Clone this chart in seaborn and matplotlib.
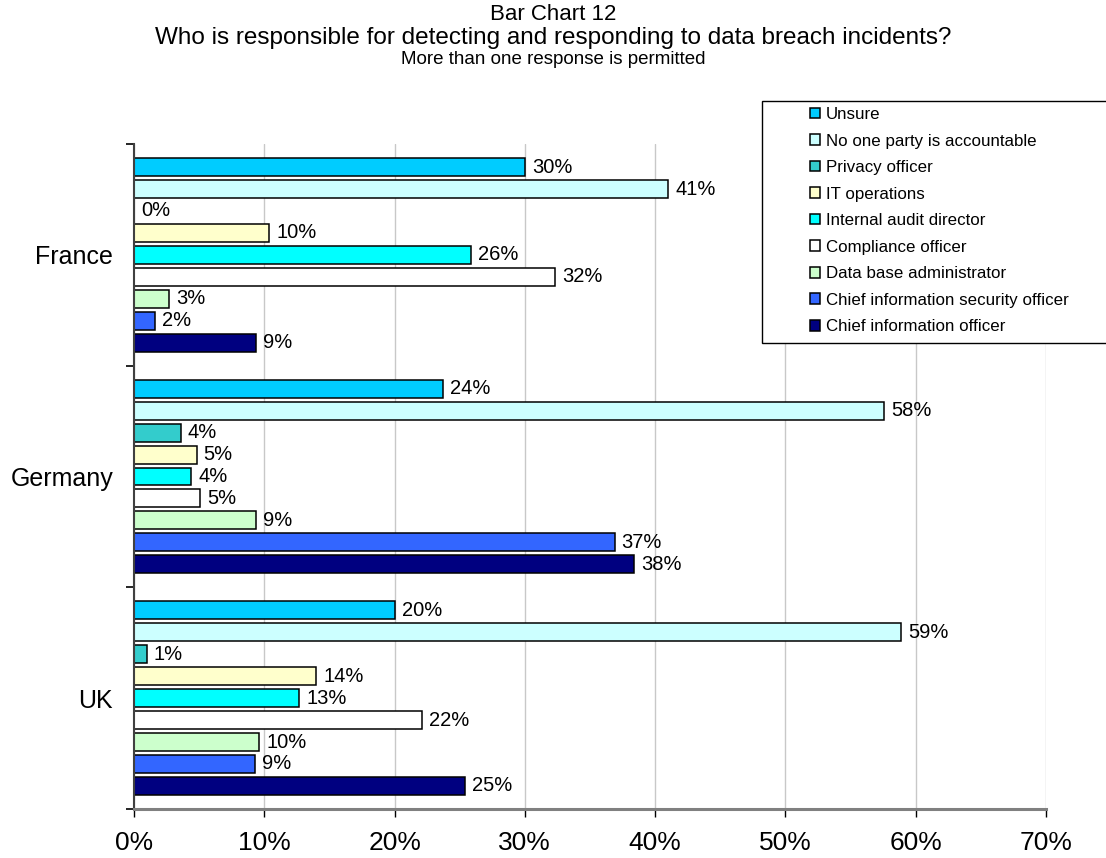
import matplotlib
matplotlib.use("Agg")
import matplotlib.pyplot as plt
from matplotlib.patches import Rectangle
import pandas as pd
import seaborn as sns

# Survey answers, percent of respondents per country
countries = ["France", "Germany", "UK"]
roles = [
    "Unsure",
    "No one party is accountable",
    "Privacy officer",
    "IT operations",
    "Internal audit director",
    "Compliance officer",
    "Data base administrator",
    "Chief information security officer",
    "Chief information officer",
]
france = [30.0, 41.0, 0.0, 10.4, 25.9, 32.3, 2.7, 1.6, 9.4]
germany = [23.7, 57.6, 3.6, 4.8, 4.4, 5.1, 9.4, 36.9, 38.4]
uk = [20.0, 58.9, 1.0, 14.0, 12.7, 22.1, 9.6, 9.3, 25.4]
x_ticks = [0, 10, 20, 30, 40, 50, 60, 70]

role_colors = ["#00CCFF", "#CCFFFF", "#33CCCC", "#FFFFCC", "#00FFFF",
               "#FFFFFF", "#CCFFCC", "#3366FF", "#000080"]

rows = []
for country, vals in zip(countries, [france, germany, uk]):
    for role, v in zip(roles, vals):
        rows.append({"country": country, "role": role, "pct": v})
df = pd.DataFrame(rows)

sns.set_theme(style="white")
plt.rcParams["font.family"] = ["Liberation Sans", "DejaVu Sans"]
plt.rcParams["text.color"] = "black"
plt.rcParams["xtick.color"] = "black"
plt.rcParams["ytick.color"] = "black"

fig = plt.figure(figsize=(11.06, 8.58), dpi=100)
ax = fig.add_axes([134 / 1106, 1 - 809 / 858, (1046 - 134) / 1106, (809 - 144) / 858])

sns.barplot(
    data=df, x="pct", y="country", hue="role", order=countries, hue_order=roles,
    palette=role_colors, orient="h", width=0.89, gap=0.18,
    edgecolor="black", linewidth=1.1, saturation=1, ax=ax, legend=True,
)

for cont in ax.containers:
    ax.bar_label(cont, fmt="{:.0f}%", padding=5, fontsize=14.5, color="black")

# axes styling
ax.set_xlim(0, 70)
ax.set_ylim(2.5, -0.5)
ax.set_xticks(x_ticks)
ax.set_xticklabels([f"{t}%" for t in x_ticks], fontsize=19, color="black")
ax.set_xlabel("")
ax.set_ylabel("")
ax.set_yticks(range(len(countries)))
ax.set_yticklabels(countries, fontsize=18, color="black")
ax.set_yticks([-0.5, 0.5, 1.5, 2.5], minor=True)
ax.tick_params(axis="y", which="major", length=0, pad=15)
ax.tick_params(axis="y", which="minor", left=True, length=6, width=1.2, color="black")
ax.tick_params(axis="x", which="major", bottom=True, length=6, width=1.0,
               color="black", pad=10)
ax.grid(axis="x", color="#C8C8C8", linewidth=1.0)
ax.grid(axis="y", visible=False)
ax.set_axisbelow(True)
for side in ["top", "right"]:
    ax.spines[side].set_visible(False)
ax.spines["left"].set_color("#404040")
ax.spines["left"].set_linewidth(1.5)
ax.spines["bottom"].set_color("#808080")
ax.spines["bottom"].set_linewidth(2.2)

# legend: frame drawn as a figure patch, entries placed inside it
handles, labels = ax.get_legend_handles_labels()
ax.legend_.remove()
fig.patches.append(Rectangle((762 / 1106, 1 - 343 / 858), 0.35, (343 - 101) / 858,
                             transform=fig.transFigure, facecolor="white",
                             edgecolor="black", linewidth=1.0, zorder=5))
leg = fig.legend(handles, labels, loc="upper left",
                 bbox_to_anchor=(810 / 1106, 1 - 107 / 858),
                 frameon=False, fontsize=12.2, borderpad=0, borderaxespad=0,
                 handlelength=0.6, handleheight=0.6, handletextpad=0.35,
                 labelspacing=0.68)
leg.set_zorder(6)
for t in leg.get_texts():
    t.set_color("black")

# titles
fig.text(0.5, 1 - 14 / 858, "Bar Chart 12", ha="center", va="center", fontsize=16)
fig.text(0.5, 1 - 38 / 858,
         "Who is responsible for detecting and responding to data breach incidents?",
         ha="center", va="center", fontsize=17.5)
fig.text(0.5, 1 - 59 / 858, "More than one response is permitted",
         ha="center", va="center", fontsize=13.5)

fig.savefig("out.png", dpi=100)
